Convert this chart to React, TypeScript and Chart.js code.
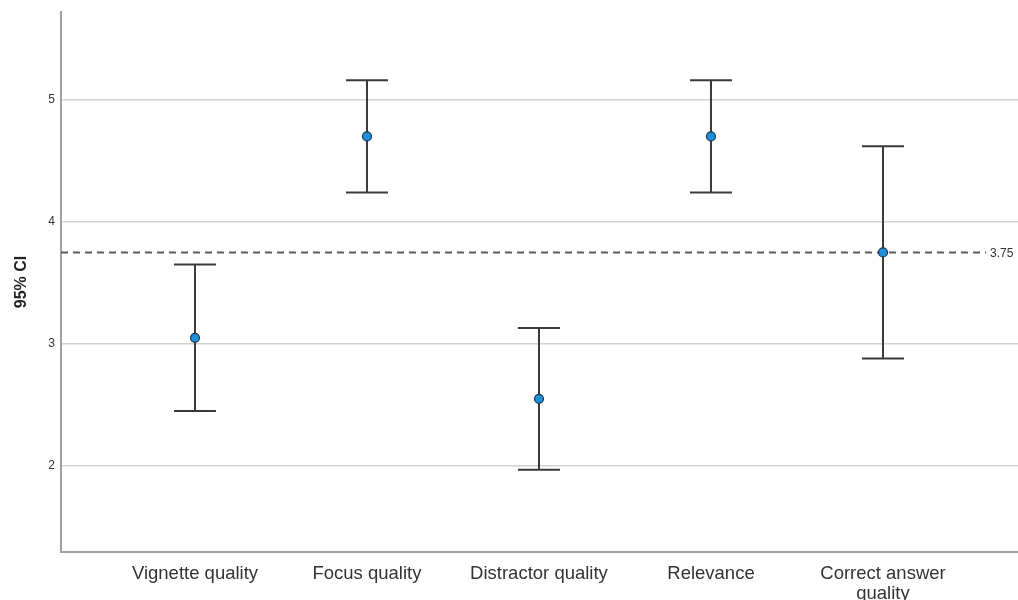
import React, { useEffect, useRef } from "react";
import { Chart, registerables } from "chart.js";

Chart.register(...registerables);

const categories: (string | string[])[] = [
  "Vignette quality",
  "Focus quality",
  "Distractor quality",
  "Relevance",
  ["Correct answer", "quality"],
];
const means = [3.05, 4.7, 2.55, 4.7, 3.75];
const lowerCI = [2.45, 4.24, 1.97, 4.24, 2.88];
const upperCI = [3.65, 5.16, 3.13, 5.16, 4.62];
const yTicks = [2, 3, 4, 5];
const referenceValue = 3.75;
const referenceLabel = "3.75";
const yAxisTitle = "95% CI";

const errorBarPlugin = {
  id: "errorBars",
  beforeDatasetsDraw(chart: any) {
    const { ctx, scales } = chart;
    const xs = scales.x;
    const ys = scales.y;
    const area = chart.chartArea;
    // reference dashed line
    ctx.save();
    const yRef = ys.getPixelForValue(referenceValue);
    ctx.strokeStyle = "#5a5a5a";
    ctx.lineWidth = 2;
    ctx.setLineDash([7, 5]);
    ctx.beginPath();
    ctx.moveTo(area.left, yRef);
    ctx.lineTo(area.right - 32, yRef);
    ctx.stroke();
    ctx.setLineDash([]);
    ctx.fillStyle = "#333";
    ctx.font = "12px 'Liberation Sans', Arial, sans-serif";
    ctx.textAlign = "left";
    ctx.textBaseline = "middle";
    ctx.fillText(referenceLabel, area.right - 28, yRef + 1);
    // error bars
    ctx.strokeStyle = "#3a3a3a";
    ctx.lineWidth = 2;
    means.forEach((_, i) => {
      const x = xs.getPixelForValue(i);
      const yl = ys.getPixelForValue(lowerCI[i]);
      const yu = ys.getPixelForValue(upperCI[i]);
      ctx.beginPath();
      ctx.moveTo(x, yl);
      ctx.lineTo(x, yu);
      ctx.moveTo(x - 21, yl);
      ctx.lineTo(x + 21, yl);
      ctx.moveTo(x - 21, yu);
      ctx.lineTo(x + 21, yu);
      ctx.stroke();
    });
    ctx.restore();
  },
};

export default function App() {
  const ref = useRef<HTMLCanvasElement>(null);
  useEffect(() => {
    if (!ref.current) return;
    const chart = new Chart(ref.current, {
      type: "scatter",
      data: {
        datasets: [
          {
            data: means.map((m, i) => ({ x: i, y: m })),
            backgroundColor: "#1e8fd8",
            borderColor: "#1a3550",
            borderWidth: 1.2,
            pointRadius: 4.5,
          },
        ],
      },
      options: {
        animation: false,
        responsive: false,
        maintainAspectRatio: false,
        layout: { padding: { top: 12, right: 0, left: 0, bottom: 0 }, autoPadding: false },
        plugins: { legend: { display: false }, tooltip: { enabled: false } },
        scales: {
          x: {
            type: "linear",
            min: -0.779,
            max: 4.785,
            afterBuildTicks(scale: any) {
              scale.ticks = categories.map((_, i) => ({ value: i }));
            },
            afterFit(scale: any) {
              scale.height = 48;
              scale.paddingLeft = 0;
              scale.paddingRight = 0;
            },
            ticks: {
              autoSkip: false,
              maxRotation: 0,
              minRotation: 0,
              padding: 12,
              color: "#333",
              font: { family: "'Liberation Sans', Arial, sans-serif", size: 18.5, lineHeight: 1.08 },
              callback: (v: any) => categories[Math.round(Number(v))] as any,
            },
            grid: { display: false, drawTicks: false },
            border: { display: true, color: "#a0a0a0", width: 2 },
          },
          y: {
            type: "linear",
            min: 1.295,
            max: 5.72,
            afterBuildTicks(scale: any) {
              scale.ticks = yTicks.map((v) => ({ value: v }));
            },
            afterFit(scale: any) {
              scale.width = 61;
              scale.paddingTop = 0;
              scale.paddingBottom = 0;
            },
            ticks: {
              padding: 6,
              color: "#333",
              font: { family: "'Liberation Sans', Arial, sans-serif", size: 12 },
            },
            title: {
              display: true,
              text: yAxisTitle,
              color: "#222",
              font: { family: "'Liberation Sans', Arial, sans-serif", size: 16, weight: "bold" },
              padding: { top: 12, bottom: 0 },
            },
            grid: { color: "#d2d2d2", lineWidth: 1.5, drawTicks: false },
            border: { display: true, color: "#a0a0a0", width: 2 },
          },
        },
      },
      plugins: [errorBarPlugin],
    } as any);
    return () => chart.destroy();
  }, []);
  return (
    <div style={{ position: "fixed", left: 0, top: 0, width: 1018, height: 600, background: "#fff" }}>
      <canvas ref={ref} width={1018} height={600} style={{ width: 1018, height: 600 }} />
    </div>
  );
}
